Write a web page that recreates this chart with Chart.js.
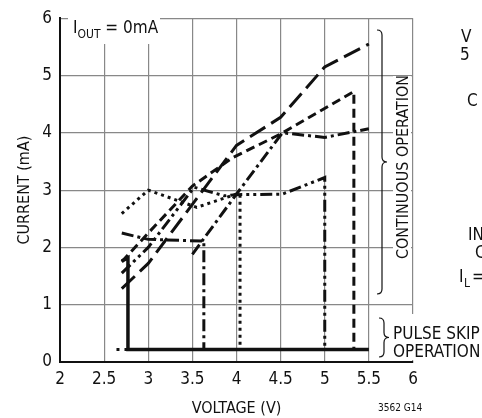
<!DOCTYPE html>
<html>
<head>
<meta charset="utf-8">
<script src="https://cdn.jsdelivr.net/npm/chart.js@4.4.0/dist/chart.umd.min.js"></script>
<style>
  body { margin: 0; background: #fff; }
  canvas { display: block; }
</style>
</head>
<body>
<canvas id="currentChart" width="482" height="418"></canvas>
<script>
// axis ticks
const voltTicks = [2, 2.5, 3, 3.5, 4, 4.5, 5, 5.5, 6];
const currentTicks = [0, 1, 2, 3, 4, 5, 6];

// curves (voltage V, current mA)
const longDashV = [2.7, 3.0, 4.0, 4.5, 5.0, 5.5];
const longDashI = [1.28, 1.72, 3.78, 4.27, 5.15, 5.55];

const shortDashV = [2.7, 3.0, 3.5, 3.95, 4.5, 5.33, 5.33];
const shortDashI = [1.75, 2.25, 3.07, 3.56, 3.98, 4.72, 0.22];

const dashDotDotV = [2.7, 3.0, 3.52, 3.86, 4.0, 4.52, 5.0, 5.0];
const dashDotDotI = [1.55, 2.0, 3.05, 2.9, 2.92, 2.93, 3.22, 0.22];

const dashDotLowV = [2.7, 3.0, 3.63, 3.63];
const dashDotLowI = [2.25, 2.14, 2.11, 0.22];

const dashDotHighV = [3.5, 4.0, 4.52, 5.0, 5.5];
const dashDotHighI = [1.88, 2.93, 4.0, 3.92, 4.07];

const dottedV = [2.7, 3.0, 3.55, 4.0, 4.04, 4.04];
const dottedI = [2.59, 3.0, 2.7, 2.93, 2.93, 0.22];

const solidV = [2.7, 2.77, 2.77, 5.5];
const solidI = [1.76, 1.82, 0.22, 0.22];

const leadDotsV = [2.64, 2.77];
const leadDotsI = [0.22, 0.22];

const FONT = "'DejaVu Sans Condensed', 'Liberation Sans Narrow', sans-serif";

function pts(vs, is) {
    return vs.map((v, k) => ({ x: v, y: is[k] }));
}

function line(vs, is, dash, width) {
    return {
        data: pts(vs, is),
        borderColor: '#111',
        borderWidth: width || 3,
        borderDash: dash,
        borderCapStyle: 'butt',
        pointRadius: 0,
        tension: 0,
        fill: false
    };
}

function brace(ctx, x, y1, y2, w) {
    const mid = (y1 + y2) / 2;
    const h = w / 2;
    ctx.beginPath();
    ctx.moveTo(x, y1);
    ctx.quadraticCurveTo(x + h, y1, x + h, y1 + h);
    ctx.lineTo(x + h, mid - h);
    ctx.quadraticCurveTo(x + h, mid, x + w, mid);
    ctx.quadraticCurveTo(x + h, mid, x + h, mid + h);
    ctx.lineTo(x + h, y2 - h);
    ctx.quadraticCurveTo(x + h, y2, x, y2);
    ctx.stroke();
}

const notes = {
    id: 'notes',
    beforeDatasetsDraw(chart) {
        const ctx = chart.ctx;
        ctx.save();
        ctx.fillStyle = '#fff';
        ctx.fillRect(68, 14, 92, 30);     // behind IOUT label
        ctx.fillRect(393, 76, 18, 182);   // behind rotated text
        ctx.fillRect(410, 314, 6, 46);    // gap in right border
        ctx.restore();
    },
    afterDraw(chart) {
        const ctx = chart.ctx;
        ctx.save();
        ctx.fillStyle = '#111';
        ctx.strokeStyle = '#111';
        ctx.textBaseline = 'alphabetic';

        // IOUT = 0mA
        ctx.font = '17px ' + FONT;
        ctx.fillText('I', 73, 33);
        let x = 73 + ctx.measureText('I').width;
        ctx.font = '12px ' + FONT;
        ctx.fillText('OUT', x, 38);
        x += ctx.measureText('OUT').width;
        ctx.font = '17px ' + FONT;
        ctx.fillText(' = 0mA', x, 33);

        // braces
        ctx.lineWidth = 1.2;
        brace(ctx, 377, 30, 294, 10);
        brace(ctx, 379, 318, 357, 10);

        // continuous operation
        ctx.save();
        ctx.translate(408, 167);
        ctx.rotate(-Math.PI / 2);
        ctx.textAlign = 'center';
        ctx.font = '16px ' + FONT;
        ctx.fillText('CONTINUOUS OPERATION', 0, 0);
        ctx.restore();

        ctx.font = '17px ' + FONT;
        ctx.fillText('PULSE SKIP', 393, 339);
        ctx.fillText('OPERATION', 393, 357);

        // cut-off labels on the right edge
        ctx.fillText('V', 461, 42);
        ctx.fillText('5', 460, 60);
        ctx.fillText('C', 467, 106);
        ctx.fillText('IN', 468, 240);
        ctx.fillText('C', 475, 258);
        ctx.fillText('I', 459, 282);
        ctx.font = '12px ' + FONT;
        ctx.fillText('L', 464, 287);
        ctx.font = '17px ' + FONT;
        ctx.fillText('=', 472, 282);

        ctx.font = '10px ' + FONT;
        ctx.fillText('3562 G14', 378, 411);
        ctx.restore();
    }
};

const ctx = document.getElementById('currentChart').getContext('2d');

new Chart(ctx, {
    type: 'line',
    data: {
        datasets: [
            line(longDashV, longDashI, [18, 7]),
            line(shortDashV, shortDashI, [9, 5]),
            line(dashDotDotV, dashDotDotI, [12, 4, 3, 4, 3, 4]),
            line(dashDotLowV, dashDotLowI, [12, 4, 3, 4]),
            line(dashDotHighV, dashDotHighI, [12, 4, 3, 4]),
            line(dottedV, dottedI, [3, 4]),
            line(solidV, solidI, [], 3.5),
            line(leadDotsV, leadDotsI, [3, 5])
        ]
    },
    options: {
        responsive: false,
        animation: false,
        layout: { padding: { top: 10, right: 69, left: 0, bottom: 0 } },
        plugins: {
            legend: { display: false },
            tooltip: { enabled: false }
        },
        scales: {
            x: {
                type: 'linear',
                min: 2,
                max: 6,
                afterFit: s => { s.height = 56; },
                afterBuildTicks: s => { s.ticks = voltTicks.map(v => ({ value: v })); },
                ticks: {
                    color: '#111',
                    padding: 7,
                    maxRotation: 0,
                    font: { family: FONT, size: 17 },
                    callback: v => String(v)
                },
                grid: { color: '#888', lineWidth: 1.2, drawTicks: false },
                border: { color: '#111', width: 2 },
                title: {
                    display: true,
                    text: 'VOLTAGE (V)',
                    color: '#111',
                    padding: { top: 0, bottom: 0 },
                    font: { family: FONT, size: 16 }
                }
            },
            y: {
                min: 0,
                max: 6,
                afterFit: s => { s.width = 60; },
                afterBuildTicks: s => { s.ticks = currentTicks.map(v => ({ value: v })); },
                ticks: {
                    color: '#111',
                    padding: 8,
                    font: { family: FONT, size: 17 }
                },
                grid: { color: '#888', lineWidth: 1.2, drawTicks: false },
                border: { color: '#111', width: 2 },
                title: {
                    display: true,
                    text: 'CURRENT (mA)',
                    color: '#111',
                    padding: { top: 15, bottom: 0 },
                    font: { family: FONT, size: 16 }
                }
            }
        }
    },
    plugins: [notes]
});
</script>
</body>
</html>
